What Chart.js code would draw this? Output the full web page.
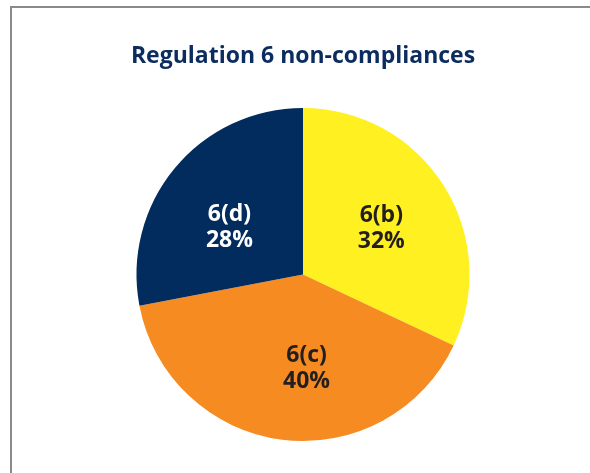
<!DOCTYPE html>
<html>
<head>
<meta charset="utf-8">
<script src="https://cdn.jsdelivr.net/npm/chart.js@4"></script>
<style>
  html, body { margin: 0; padding: 0; background: #fff; }
  #frame { position: absolute; left: 10px; top: 6px; width: 580px; height: 467px;
           border-top: 2px solid #8a8a8a; border-left: 2px solid #8a8a8a; }
  #wrap { position: absolute; left: 0; top: 0; width: 590px; height: 473px; }
</style>
</head>
<body>
<div id="frame"></div>
<div id="wrap"><canvas id="c" width="590" height="473"></canvas></div>
<script>
const categories = ['6(b)', '6(c)', '6(d)'];
const shares = [32, 40, 28];
const sliceColors = ['#FFF021', '#F68B22', '#022B5E'];
const labelColors = ['#231F20', '#231F20', '#FFFFFF'];
const chartTitle = 'Regulation 6 non-compliances';

// style: small hand nudges of each slice label (px), as in the original layout
const labelNudges = [[1, 3], [15, 3], [-3, 11]];

const sliceLabels = {
  id: 'sliceLabels',
  afterDatasetsDraw(chart) {
    const ctx = chart.ctx;
    const meta = chart.getDatasetMeta(0);
    ctx.save();
    ctx.font = 'bold 23px "Open Sans", sans-serif';
    ctx.textAlign = 'center';
    ctx.textBaseline = 'middle';
    meta.data.forEach((arc, i) => {
      const p = arc.getProps(['x', 'y', 'startAngle', 'endAngle', 'outerRadius']);
      const mid = (p.startAngle + p.endAngle) / 2;
      const r = p.outerRadius * 0.55;
      const cx = p.x + Math.cos(mid) * r + labelNudges[i][0];
      const cy = p.y + Math.sin(mid) * r + labelNudges[i][1];
      ctx.fillStyle = labelColors[i];
      ctx.fillText(categories[i], cx, cy - 12.5);
      ctx.fillText(shares[i] + '%', cx, cy + 13);
    });
    ctx.restore();
  }
};

new Chart(document.getElementById('c'), {
  type: 'pie',
  data: {
    labels: categories,
    datasets: [{
      data: shares,
      backgroundColor: sliceColors,
      borderWidth: 0
    }]
  },
  options: {
    responsive: false,
    animation: false,
    layout: { padding: { top: 0, bottom: 32, left: 16, right: 0 } },
    plugins: {
      legend: { display: false },
      tooltip: { enabled: false },
      title: {
        display: true,
        text: chartTitle,
        color: '#0B2C5F',
        font: { family: '"Open Sans", sans-serif', size: 23, weight: 'bold', lineHeight: 1.2 },
        padding: { top: 43, bottom: 37.4 }
      }
    }
  },
  plugins: [sliceLabels]
});
</script>
</body>
</html>
